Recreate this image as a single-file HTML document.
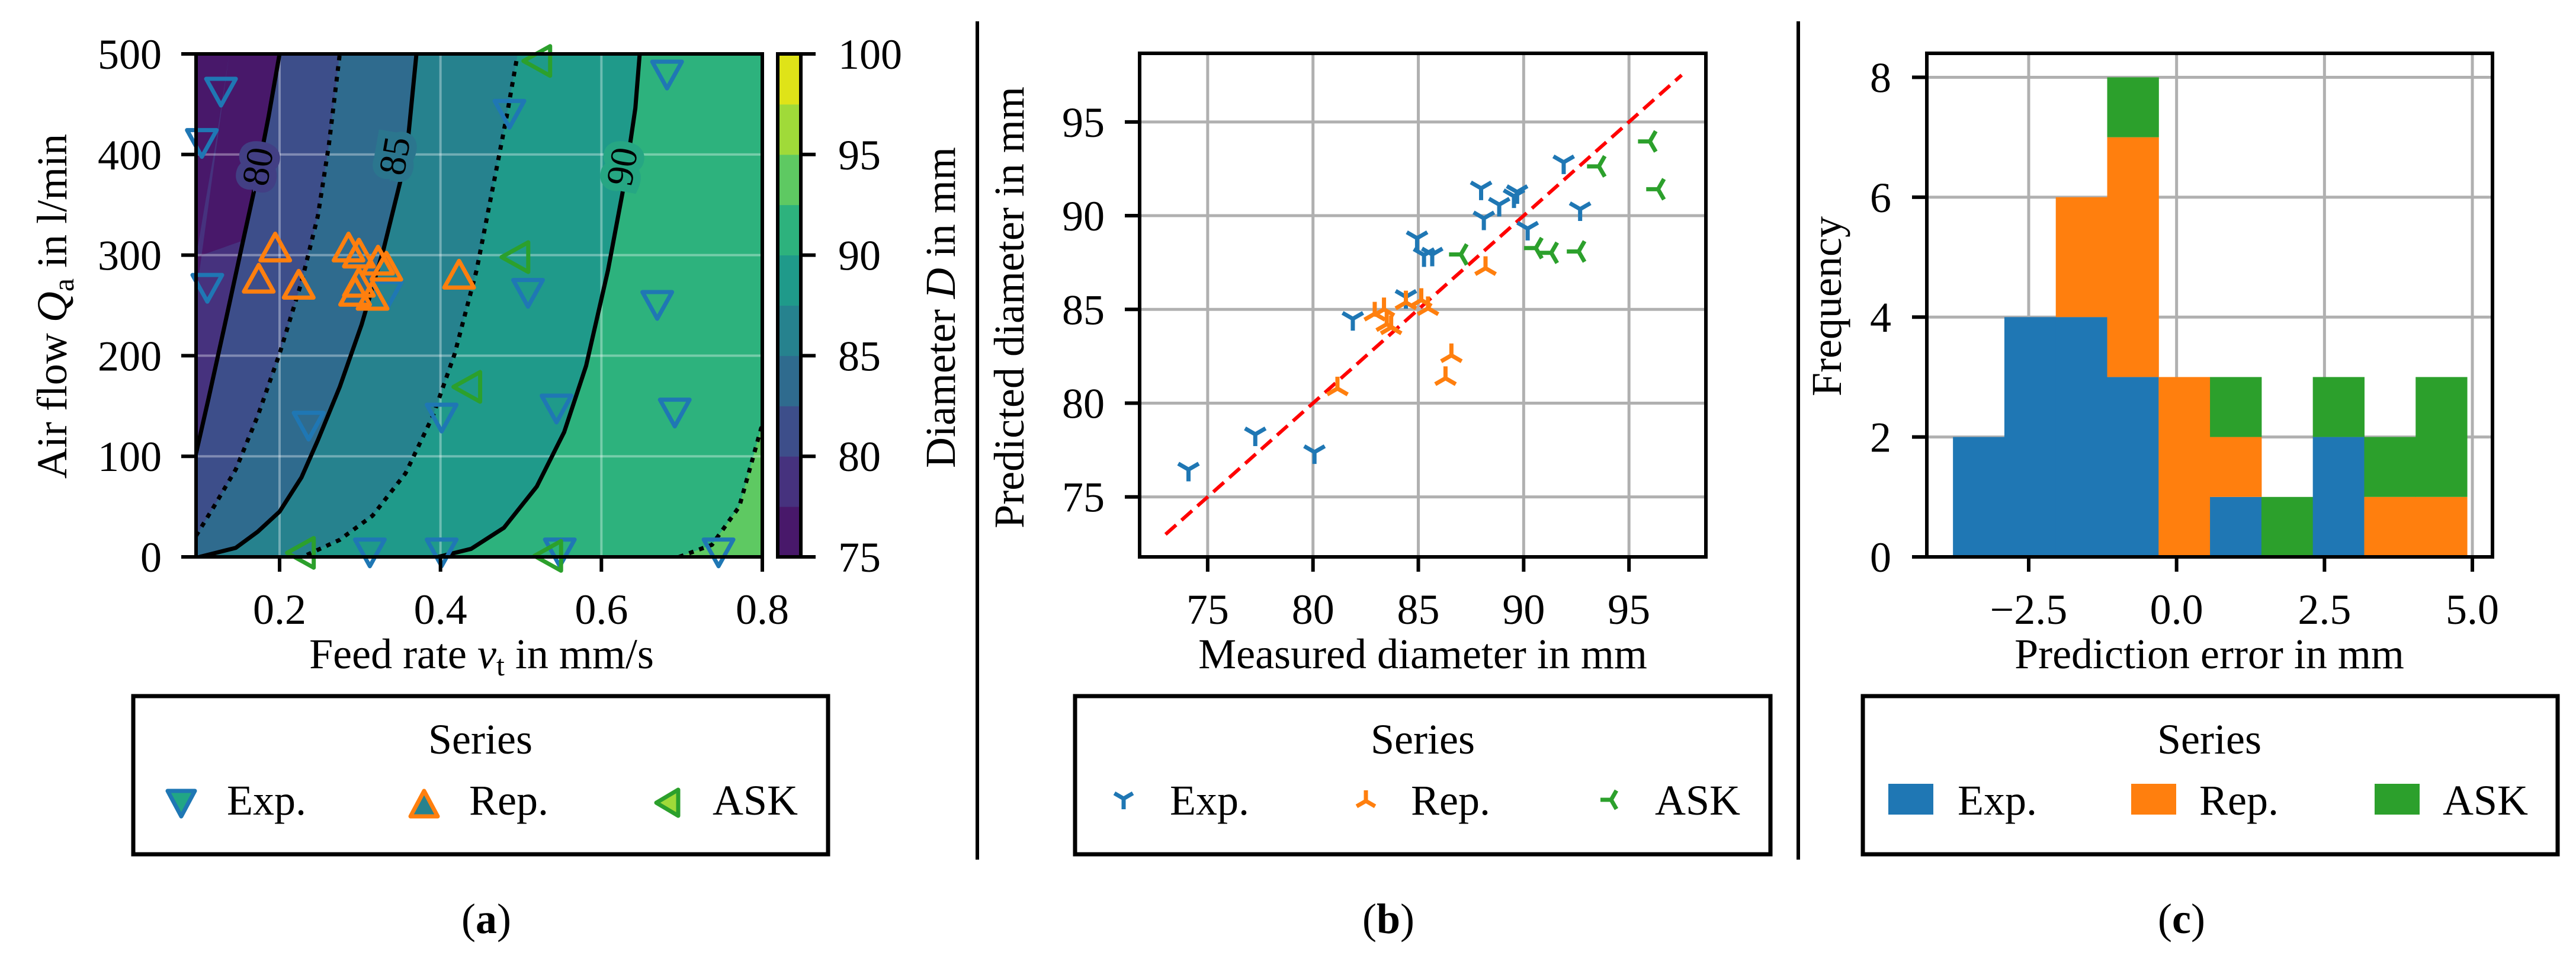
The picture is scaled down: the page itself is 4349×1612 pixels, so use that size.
<!DOCTYPE html>
<html><head><meta charset="utf-8"><style>
html,body{margin:0;padding:0;background:#fff}
svg{display:block}
text{font-family:"Liberation Serif",serif;fill:#000}
</style></head><body>
<svg id="fig" xmlns="http://www.w3.org/2000/svg" width="4349" height="1612" viewBox="0 0 4349 1612">
<rect width="4349" height="1612" fill="#fff"/>
</svg>
<script>
// ---------- Panel (a) data ----------
const contourLevels = [77.5, 80, 82.5, 85, 87.5, 90, 92.5];
const c775v = [0.1374,0.1218,0.1082,0.0962]; const c775q=[500,417,355,298];
const c80v = [0.0962,0.1116,0.132,0.1524,0.1694,0.1864,0.2]; const c80q=[103,157,231,306,368,438,500];
const c825v = [0.0962,0.1184,0.1456,0.1728,0.2,0.2272,0.2476,0.2612,0.2748]; const c825q=[21,50,87,140,202,273,339,409,500];
const c85v = [0.1007,0.1456,0.1728,0.2,0.2272,0.2476,0.2748,0.302,0.3293,0.3497,0.3599,0.3701]; const c85q=[0,9,25,45,79,116,169,231,306,372,417,500];
const c875v = [0.234,0.2748,0.3156,0.3565,0.3905,0.4177,0.4449,0.4653,0.4823,0.4959]; const c875q=[2,17,41,83,140,202,285,368,438,500];
const c90v = [0.3973,0.4381,0.4789,0.5197,0.5537,0.581,0.6082,0.6286,0.6422,0.6476]; const c90q=[0,8,29,70,124,190,285,372,446,500];
const c925v = [0.6966,0.7374,0.7714,0.7986,0.81]; const c925q=[0,12,50,128,135];
const bandColors = ["#48186a","#46327e","#3d4e8a","#2f6b8e","#26828e","#1f9a8a","#2db27d","#5ec962","#a0da39","#dfe318"];
const expV=[0.1272,0.1034,0.1102,0.2361,0.3333,0.3122,0.4014,0.4014,0.4857,0.5088,0.5442,0.5483,0.6816,0.6694,0.6912,0.7456];
const expQ=[462,411,267,130,260,4,138,4,440,262,147,4,479,250,143,4];
const repV=[0.1946,0.1741,0.2238,0.2857,0.2986,0.3224,0.3327,0.2986,0.2939,0.3156,0.4231];
const repQ=[308,277,271,308,302,295,289,273,264,260,281];
const askV=[0.5197,0.4925,0.4327,0.2259,0.5333];
const askQ=[493,298,169,4,1];
const aXTicks=[0.2,0.4,0.6,0.8], aXTickLabels=["0.2","0.4","0.6","0.8"];
const aYTicks=[0,100,200,300,400,500];
const cbTicks=[75,80,85,90,95,100];
// ---------- Panel (b) data ----------
const bExpX=[74.09,77.26,80.07,81.89,84.94,85.27,85.66,84.41,87.98,88.11,88.84,89.69,89.54,90.19,91.9,92.68];
const bExpY=[76.46,78.34,77.39,84.5,88.8,87.9,87.93,85.67,91.46,89.86,90.59,91.26,91.04,89.31,92.85,90.35];
const bRepX=[81.16,82.93,83.37,83.5,83.71,84.41,85.14,85.46,88.19,86.57,86.29];
const bRepY=[80.78,84.77,85.0,84.21,84.04,85.37,85.5,85.06,87.2,82.55,81.33];
const bAskX=[87.02,90.58,91.31,92.61,93.57,95.99,96.38];
const bAskY=[87.93,88.27,88.02,88.09,92.63,93.96,91.41];
const bTicks=[75,80,85,90,95];
// ---------- Panel (c) data ----------
const binStart=-3.78, binWidth=0.869;
const histExp=[2,4,4,3,0,1,0,2,0,0];
const histRep=[0,0,2,4,3,1,0,0,1,1];
const histAsk=[0,0,0,1,0,1,1,1,1,2];
const cXTicks=[-2.5,0,2.5,5], cXTickLabels=["\u22122.5","0.0","2.5","5.0"];
const cYTicks=[0,2,4,6,8];

const NS="http://www.w3.org/2000/svg";
const svg=document.getElementById('fig');
function el(tag,attrs,parent){const e=document.createElementNS(NS,tag);for(const k in attrs)e.setAttribute(k,attrs[k]);(parent||svg).appendChild(e);return e;}
function lin(d0,d1,r0,r1){return v=>r0+(v-d0)*(r1-r0)/(d1-d0);}
const BLUE="#1f77b4",ORANGE="#ff7f0e",GREEN="#2ca02c",GRID="#b0b0b0";
const FS=72;

function txt(s,x,y,opts){const t=el('text',Object.assign({x:x,y:y,'font-size':FS},opts||{}));t.textContent=s;return t;}

// ================= PANEL A =================
const A={L:331,R:1287,T:91,B:940};
const ax=lin(0.0962,0.8,A.L,A.R), ay=lin(0,500,A.B,A.T);
const gA=el('g',{});


const defs=el('defs',{});
const cp=el('clipPath',{id:'clipA'},defs);
el('rect',{x:A.L,y:A.T,width:A.R-A.L,height:A.B-A.T},cp);
const fillG=el('g',{'clip-path':'url(#clipA)'},gA);
el('rect',{x:A.L,y:A.T,width:A.R-A.L,height:A.B-A.T,fill:bandColors[0]},fillG);
const curves=[[c775v,c775q],[c80v,c80q],[c825v,c825q],[c85v,c85q],[c875v,c875q],[c90v,c90q],[c925v,c925q]];
curves.forEach((c,i)=>{
  const vs=c[0],qs=c[1];
  let pts=vs.map((v,j)=>ax(v)+','+ay(qs[j]));
  const lastQ=qs[qs.length-1];
  pts.push(ax(0.85)+','+ay(Math.max(lastQ,510)));
  pts.push(ax(0.85)+','+ay(-10));
  pts.push(ax(0.05)+','+ay(-10));
  const p=el('polygon',{points:pts.join(' '),fill:bandColors[i+1]},fillG);
  
  
});
// grid
aXTicks.forEach(v=>{if(v<0.8)el('line',{x1:ax(v),x2:ax(v),y1:A.T,y2:A.B,stroke:'rgba(255,255,255,0.35)','stroke-width':4},gA);});
aYTicks.forEach(v=>{if(v>0&&v<500)el('line',{x1:A.L,x2:A.R,y1:ay(v),y2:ay(v),stroke:'rgba(255,255,255,0.35)','stroke-width':4},gA);});
// contour lines
const lineG=el('g',{'clip-path':'url(#clipA)'},gA);
curves.forEach((c,i)=>{
  if(i===0)return;
  const lvl=contourLevels[i];
  const d=c[0].map((v,j)=>(j?'L':'M')+ax(v)+','+ay(c[1][j])).join(' ');
  const dotted=(lvl%5)!==0;
  const p=el('path',{d:d,fill:'none',stroke:'#000','stroke-width':7,'stroke-dasharray':dotted?'8,10':'none','stroke-linejoin':'round'},lineG);
  
  
});
// contour labels
[["80",435,281,"#423f84"],["85",666,263,"#2b768e"],["90",1050,281,"#26a683"]].forEach(l=>{
  const t=txt(l[0],l[1],l[2],{'font-size':64,'text-anchor':'middle','dominant-baseline':'central',stroke:l[3],'stroke-width':26,'paint-order':'stroke',transform:'rotate(-80 '+l[1]+' '+l[2]+')'});
  
  
});
// markers
function triPath(cx,cy,s,dir){
  if(dir==='down')return `M${cx-s},${cy-s*0.9}L${cx+s},${cy-s*0.9}L${cx},${cy+s*0.9}Z`;
  if(dir==='up')return `M${cx-s},${cy+s*0.9}L${cx+s},${cy+s*0.9}L${cx},${cy-s*0.9}Z`;
  return `M${cx+s*0.9},${cy-s}L${cx+s*0.9},${cy+s}L${cx-s*0.9},${cy}Z`;
}
expV.forEach((v,i)=>{const p=el('path',{d:triPath(ax(v),ay(expQ[i]),25,'down'),fill:'none',stroke:BLUE,'stroke-width':7,'stroke-linejoin':'round'},gA);
  });
repV.forEach((v,i)=>{const p=el('path',{d:triPath(ax(v),ay(repQ[i]),25,'up'),fill:'none',stroke:ORANGE,'stroke-width':7,'stroke-linejoin':'round'},gA);
  });
askV.forEach((v,i)=>{const p=el('path',{d:triPath(ax(v),ay(askQ[i]),25,'left'),fill:'none',stroke:GREEN,'stroke-width':7,'stroke-linejoin':'round'},gA);
  });
// axes box & ticks
el('rect',{x:A.L,y:A.T,width:A.R-A.L,height:A.B-A.T,fill:'none',stroke:'#000','stroke-width':6},gA);
aXTicks.forEach((v,i)=>{el('line',{x1:ax(v),x2:ax(v),y1:A.B,y2:A.B+25,stroke:'#000','stroke-width':6},gA);
  const t=txt(aXTickLabels[i],ax(v),1053,{'text-anchor':'middle'});});
aYTicks.forEach(v=>{el('line',{x1:A.L-25,x2:A.L,y1:ay(v),y2:ay(v),stroke:'#000','stroke-width':6},gA);
  const t=txt(String(v),273,ay(v)+25,{'text-anchor':'end'});});
// colorbar
const CB={L:1313,R:1352};
const cby=lin(75,100,A.B,A.T);
const cbG=el('g',{});


bandColors.forEach((c,i)=>{el('rect',{x:CB.L,y:cby(75+2.5*(i+1)),width:CB.R-CB.L,height:cby(75)-cby(77.5)+0.5,fill:c},cbG);});
el('rect',{x:CB.L,y:A.T,width:CB.R-CB.L,height:A.B-A.T,fill:'none',stroke:'#000','stroke-width':6},cbG);
cbTicks.forEach(v=>{el('line',{x1:CB.R,x2:CB.R+25,y1:cby(v),y2:cby(v),stroke:'#000','stroke-width':6},cbG);
  const t=txt(String(v),1415,cby(v)+25,{});});
</script>
<script>
(function(){
const svg=document.getElementById('fig');
svg.insertAdjacentHTML('beforeend',`
<text x="813" y="1128" font-size="72" text-anchor="middle">Feed rate <tspan font-style="italic">v</tspan><tspan font-size="50" dy="12">t</tspan><tspan dy="-12"> in mm/s</tspan></text>
<text x="0" y="0" font-size="72" text-anchor="middle" transform="translate(112 517) rotate(-90)">Air flow <tspan font-style="italic">Q</tspan><tspan font-size="50" dy="12">a</tspan><tspan dy="-12"> in l/min</tspan></text>
`);
})();
</script>
<script>
// ================= PANEL B =================
(function(){
const B={L:1924,R:2880,T:90,B:940};
const bx=lin(71.77,98.65,B.L,B.R), by=lin(71.8,98.66,B.B,B.T);
const g=el('g',{});


bTicks.forEach(v=>{el('line',{x1:bx(v),x2:bx(v),y1:B.T,y2:B.B,stroke:GRID,'stroke-width':5},g);
  el('line',{x1:B.L,x2:B.R,y1:by(v),y2:by(v),stroke:GRID,'stroke-width':5},g);});
const diag=el('line',{x1:bx(73),y1:by(73),x2:bx(97.5),y2:by(97.5),stroke:'#ff0000','stroke-width':6,'stroke-dasharray':'24,12'},g);


function tri(cx,cy,s,dir){
  if(dir==='down')return `M${cx},${cy}L${cx},${cy+s}M${cx},${cy}L${cx-0.866*s},${cy-0.5*s}M${cx},${cy}L${cx+0.866*s},${cy-0.5*s}`;
  if(dir==='up')return `M${cx},${cy}L${cx},${cy-s}M${cx},${cy}L${cx-0.866*s},${cy+0.5*s}M${cx},${cy}L${cx+0.866*s},${cy+0.5*s}`;
  return `M${cx},${cy}L${cx-s},${cy}M${cx},${cy}L${cx+0.5*s},${cy-0.866*s}M${cx},${cy}L${cx+0.5*s},${cy+0.866*s}`;
}
bExpX.forEach((v,i)=>{const p=el('path',{d:tri(bx(v),by(bExpY[i]),20,'down'),stroke:BLUE,'stroke-width':7,fill:'none'},g);
  });
bRepX.forEach((v,i)=>{const p=el('path',{d:tri(bx(v),by(bRepY[i]),20,'up'),stroke:ORANGE,'stroke-width':7,fill:'none'},g);
  });
bAskX.forEach((v,i)=>{const p=el('path',{d:tri(bx(v),by(bAskY[i]),20,'left'),stroke:GREEN,'stroke-width':7,fill:'none'},g);
  });
el('rect',{x:B.L,y:B.T,width:B.R-B.L,height:B.B-B.T,fill:'none',stroke:'#000','stroke-width':6},g);
bTicks.forEach(v=>{
  el('line',{x1:bx(v),x2:bx(v),y1:B.B,y2:B.B+25,stroke:'#000','stroke-width':6},g);
  el('line',{x1:B.L-25,x2:B.L,y1:by(v),y2:by(v),stroke:'#000','stroke-width':6},g);
  const t1=txt(String(v),bx(v),1053,{'text-anchor':'middle'});
  const t2=txt(String(v),1865,by(v)+25,{'text-anchor':'end'});
});
window._tri=tri;
})();
</script>
<script>
// ================= PANEL C =================
(function(){
const C={L:3253,R:4208,T:90,B:940};
const cx=lin(-4.222,5.34,C.L,C.R), cy=lin(0,8.4,C.B,C.T);
const g=el('g',{});


cXTicks.forEach(v=>el('line',{x1:cx(v),x2:cx(v),y1:C.T,y2:C.B,stroke:GRID,'stroke-width':5},g));
cYTicks.forEach(v=>el('line',{x1:C.L,x2:C.R,y1:cy(v),y2:cy(v),stroke:GRID,'stroke-width':5},g));
histExp.forEach((n,i)=>{
  const x0=cx(binStart+i*binWidth), x1=cx(binStart+(i+1)*binWidth);
  const stack=[[histExp[i],BLUE,'exp'],[histRep[i],ORANGE,'rep'],[histAsk[i],GREEN,'ask']];
  let base=0;
  stack.forEach(s=>{
    if(s[0]>0){
      const r=el('rect',{x:x0,y:cy(base+s[0]),width:x1-x0+0.5,height:cy(base)-cy(base+s[0]),fill:s[1]},g);
      
      
    }
    base+=s[0];
  });
});
el('rect',{x:C.L,y:C.T,width:C.R-C.L,height:C.B-C.T,fill:'none',stroke:'#000','stroke-width':6},g);
cXTicks.forEach((v,i)=>{el('line',{x1:cx(v),x2:cx(v),y1:C.B,y2:C.B+25,stroke:'#000','stroke-width':6},g);
  const t=txt(cXTickLabels[i],cx(v),1053,{'text-anchor':'middle'});});
cYTicks.forEach(v=>{el('line',{x1:C.L-25,x2:C.L,y1:cy(v),y2:cy(v),stroke:'#000','stroke-width':6},g);
  const t=txt(String(v),3193,cy(v)+25,{'text-anchor':'end'});});
})();
</script>
<script>
(function(){
const svg=document.getElementById('fig');
const tri=window._tri;
svg.insertAdjacentHTML('beforeend',`
<text x="2402" y="1128" font-size="72" text-anchor="middle">Measured diameter in mm</text>
<text font-size="72" text-anchor="middle" transform="translate(1612 519) rotate(-90)">Diameter <tspan font-style="italic">D</tspan> in mm</text>
<text font-size="72" text-anchor="middle" transform="translate(1728 519) rotate(-90)">Predicted diameter in mm</text>
<text x="3730" y="1128" font-size="72" text-anchor="middle">Prediction error in mm</text>
<text font-size="72" text-anchor="middle" transform="translate(3108 517) rotate(-90)">Frequency</text>
<line x1="1650" x2="1650" y1="36" y2="1451" stroke="#000" stroke-width="6"/>
<line x1="3036" x2="3036" y1="36" y2="1451" stroke="#000" stroke-width="6"/>

<g>
<rect x="225" y="1175" width="1173" height="267" fill="#fff" stroke="#000" stroke-width="7"/>
<text x="811" y="1272" font-size="72" text-anchor="middle">Series</text>
<path d="M283,1335L329,1335L306,1378Z" fill="#21a685" stroke="${BLUE}" stroke-width="7" stroke-linejoin="round"/>
<text x="383" y="1375" font-size="72">Exp.</text>
<path d="M693,1378L739,1378L716,1335Z" fill="#26828e" stroke="${ORANGE}" stroke-width="7" stroke-linejoin="round"/>
<text x="792" y="1375" font-size="72">Rep.</text>
<path d="M1145,1333L1145,1377L1108,1355Z" fill="#a0da39" stroke="${GREEN}" stroke-width="7" stroke-linejoin="round"/>
<text x="1203" y="1375" font-size="72">ASK</text>
</g>

<g>
<rect x="1815" y="1175" width="1174" height="267" fill="#fff" stroke="#000" stroke-width="7"/>
<text x="2402" y="1272" font-size="72" text-anchor="middle">Series</text>
<path d="${tri(1897,1348,18,'down')}" stroke="${BLUE}" stroke-width="7" fill="none"/>
<text x="1975" y="1375" font-size="72">Exp.</text>
<path d="${tri(2306,1352,18,'up')}" stroke="${ORANGE}" stroke-width="7" fill="none"/>
<text x="2382" y="1375" font-size="72">Rep.</text>
<path d="${tri(2720,1350,18,'left')}" stroke="${GREEN}" stroke-width="7" fill="none"/>
<text x="2794" y="1375" font-size="72">ASK</text>
</g>

<g>
<rect x="3145" y="1175" width="1173" height="267" fill="#fff" stroke="#000" stroke-width="7"/>
<text x="3730" y="1272" font-size="72" text-anchor="middle">Series</text>
<rect x="3188" y="1323" width="76" height="52" fill="${BLUE}"/>
<text x="3305" y="1375" font-size="72">Exp.</text>
<rect x="3598" y="1323" width="76" height="52" fill="${ORANGE}"/>
<text x="3713" y="1375" font-size="72">Rep.</text>
<rect x="4009" y="1323" width="76" height="52" fill="${GREEN}"/>
<text x="4124" y="1375" font-size="72">ASK</text>
</g>

<text x="821" y="1575" font-size="72" text-anchor="middle">(<tspan font-weight="bold">a</tspan>)</text>
<text x="2344" y="1575" font-size="72" text-anchor="middle">(<tspan font-weight="bold">b</tspan>)</text>
<text x="3683" y="1575" font-size="72" text-anchor="middle">(<tspan font-weight="bold">c</tspan>)</text>
`);
})();
</script>
</body></html>
